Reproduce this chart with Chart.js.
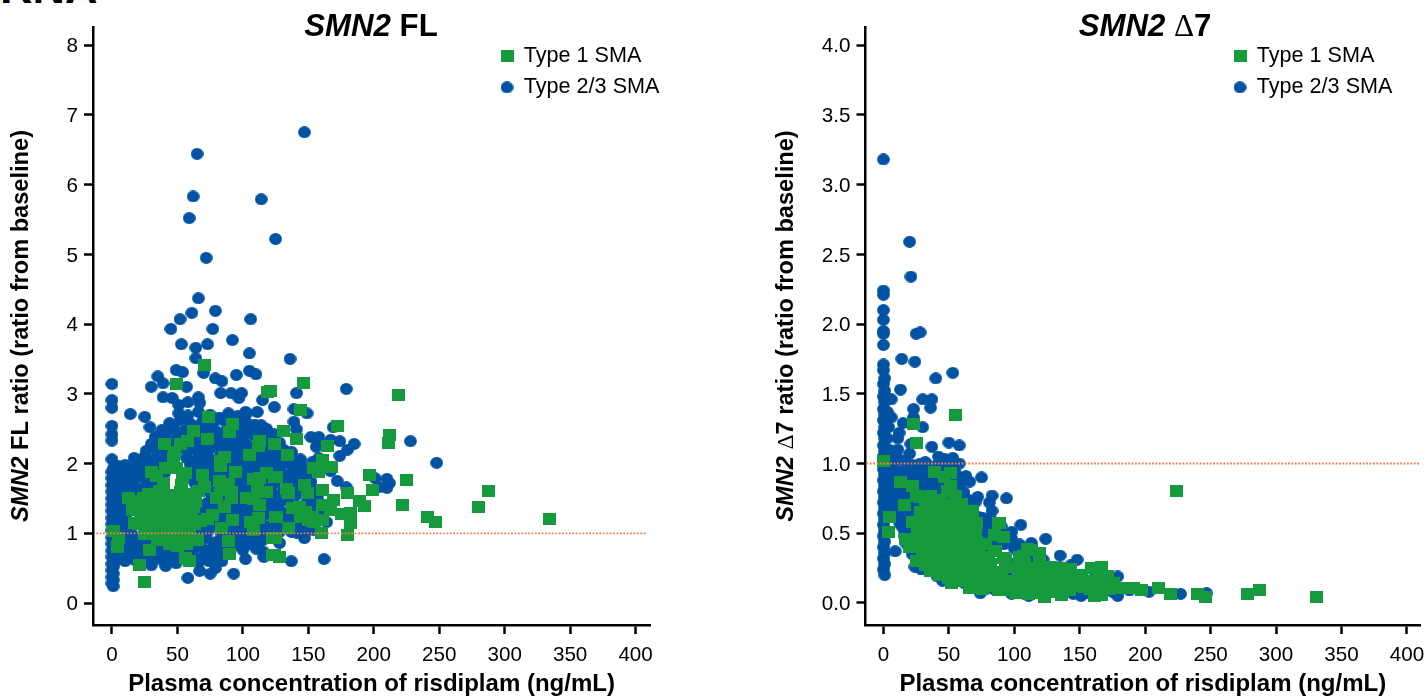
<!DOCTYPE html>
<html>
<head>
<meta charset="utf-8">
<title>SMN2 FL and SMN2 delta7 vs plasma risdiplam</title>
<script src="https://cdn.jsdelivr.net/npm/chart.js@4"></script>
<style>
    html, body { margin: 0; padding: 0; background: #fff; width: 1427px; height: 699px; overflow: hidden; }
    canvas { position: absolute; top: 0; }
    #chartFL { left: 0; }
    #chartD7 { left: 700px; }
    #cropLabel { position: absolute; left: 0; top: -35px; font: bold 45px/45px "Liberation Sans", sans-serif; color: #000; }
</style>
</head>
<body>
<div id="cropLabel">RNA</div>
<canvas id="chartFL" width="700" height="699"></canvas>
<canvas id="chartD7" width="727" height="699"></canvas>
<script>
// ====== Data: [concentration ng/mL, ratio] ======
const legendType1 = "Type 1 SMA";
const legendType23 = "Type 2/3 SMA";
const xTicks = [0, 50, 100, 150, 200, 250, 300, 350, 400];
const flTicks = [0, 1, 2, 3, 4, 5, 6, 7, 8];
const d7Ticks = [0, 0.5, 1, 1.5, 2, 2.5, 3, 3.5, 4];
const xAxisTitle = "Plasma concentration of risdiplam (ng/mL)";
const baselineRatio = 1;

const flType1 = [[146,3.15],[219,2.98],[144,2.77],[172,2.54],[131,2.47],[141,2.35],[212,2.41],[211,2.29],[165,2.25],[134,2.12],[161,2.05],[154,1.94],[168,1.95],[158,1.88],[197,1.84],[225,1.76],[126,1.81],[199,1.62],[147,1.69],[133,1.63],[161,1.62],[180,1.58],[149,1.58],[135,1.58],[169,1.48],[189,1.46],[193,1.39],[222,1.4],[161,1.4],[182,1.29],[175,1.28],[167,1.33],[241,1.23],[247,1.16],[182,1.15],[161,1.19],[155,1.16],[150,1.19],[144,1.23],[138,1.36],[143,1.38],[148,1.3],[153,1.23],[126,1.23],[135,1.08],[160,1],[180,.98],[125,.93],[128,.66],[124,.69],[280,1.38],[288,1.61],[334,1.2],[49,3.14],[71,3.41],[119,3.03],[121,3.04],
[74,2.67],[92,2.57],[90,2.45],[62,2.47],[73,2.35],[40,2.28],[52,2.28],[58,2.32],[113,2.32],[112,2.25],[124,2.28],[105,2.12],[48,2.16],[47,2.08],[86,2.09],[83,2.04],[83,1.96],[94,1.88],[41,1.94],[30,1.88],[34,1.82],[49,1.94],[56,1.86],[69,1.84],[54,1.79],[39,1.72],[82,1.75],[89,1.71],[108,1.78],[113,1.79],[118,1.86],[124,1.81],[91,1.59],[83,1.62],[71,1.66],[53,1.69],[111,1.65],[118,1.59],[13,1.51],[24,1.51],[37,1.59],[80,1.51],[91,1.51],[103,1.51],[108,1.49],[113,1.4],[16,1.33],[86,1.38],[77,1.26],[73,1.2],[92,1.19],[112,1.22],[106,1.16],[125,1.23],[20,1.13],[58,1.16],[84,1.08],[108,1.05],[1,1.03],[5,.93],[4,.8],[25,.99],[29,.76],[89,.89],[90,.7],[21,.54],[25,.3],[56,.65],[59,.6],[123,.93],[123,.69],
[28,1.57],[36,1.6],[44,1.55],[52,1.59],[60,1.56],[66,1.61],[20,1.46],[27,1.48],[35,1.45],[43,1.49],[50,1.44],[58,1.48],[64,1.45],[18,1.36],[26,1.38],[33,1.35],[41,1.39],[48,1.36],[56,1.33],[62,1.37],[22,1.26],[29,1.24],[37,1.28],[45,1.25],[53,1.27],[61,1.24],[17,1.15],[24,1.17],[32,1.14],[40,1.16],[47,1.13],[55,1.17],[63,1.14],[68,1.18],[27,1.04],[36,1.06],[44,1.03],[51,1.05],[59,1.02],[35,.91],[43,.94],[50,.9],[57,.93],[65,.91],[44,.84],[50,.82],[57,.85]];

const flType23 = [[147,6.75],[65,6.44],[62,5.83],[114,5.79],[59,5.52],[125,5.22],[72,4.95],[66,4.37],[79,4.19],[61,4.16],[52,4.07],[106,4.07],[45,3.93],[77,3.93],[53,3.71],[73,3.71],[92,3.77],[64,3.66],[105,3.58],[136,3.5],[64,3.51],[70,3.3],[49,3.34],[54,3.31],[35,3.25],[79,3.22],[84,3.18],[95,3.27],[105,3.33],[110,3.28],[30,3.1],[39,3.15],[57,3.1],[0,3.14],[0,2.91],[0,2.8],[0,2.54],[0,2.42],[0,2.33],[0,2.06],[14,2.71],[25,2.67],[29,2.52],[39,2.95],[46,2.94],[51,2.84],[66,2.95],[67,2.87],[58,2.88],[83,3.01],[91,3.01],[99,3.01],[97,2.94],[115,2.91],[124,2.81],[141,3.01],[179,3.07],[149,2.72],[139,2.78],[139,2.6],[141,2.49],[100,2.45],[114,2.55],[118,2.5],[112,2.45],[102,2.74],[111,2.74],[152,2.38],[158,2.38],[167,2.34],[174,2.32],[185,2.28],[180,2.2],[174,2.11],[156,2.24],[169,2.52],[228,2.32],[248,2.01],[158,2.08],[153,2.02],[127,1.98],[117,2.01],[167,1.89],[172,1.75],[179,1.66],[201,1.79],[210,1.78],[212,1.72],[210,1.65],[204,1.66],[162,.63],[137,.6],[147,.93],[128,.86],[115,.9],[106,.92],[116,.73],[116,.66],[102,.63],[100,.76],[97,.83],[93,.42],[79,.5],[75,.42],[67,.46],[58,.36],[74,.6],[70,.66],[71,.76],[41,.53],[30,.54],[49,.57],[32,.64],[10,.6],[18,.61],[164,1.16],[157,1.48],
[1,.24],[0,.28],[1,.33],[0,.37],[1,.42],[0,.47],[1,.52],[0,.56],[1,.61],[0,.66],[2,.71],[0,.75],[1,.8],[0,.85],[2,.9],[0,.94],[1,.99],[0,1.04],[2,1.08],[0,1.13],[1,1.18],[0,1.22],[2,1.27],[0,1.32],[1,1.36],[0,1.41],[2,1.46],[0,1.5],[1,1.55],[0,1.6],[2,1.64],[0,1.69],[1,1.74],[0,1.79],[2,1.83],[0,1.88],[1,1.93],[4,.62],[3,.7],[5,.78],[4,.87],[6,.96],[3,1.05],[5,1.14],[4,1.3],[6,1.4],[3,1.58],[5,1.68],[4,1.77],[6,1.86],[5,1.96],
[51,2.72],[58,2.69],[66,2.74],[75,2.7],[82,2.66],[89,2.72],[96,2.68],[103,2.72],[44,2.58],[52,2.62],[60,2.57],[69,2.6],[77,2.56],[85,2.62],[94,2.58],[102,2.6],[109,2.56],[38,2.48],[47,2.5],[55,2.47],[63,2.52],[72,2.5],[80,2.46],[88,2.5],[97,2.47],[105,2.5],[33,2.38],[41,2.4],[50,2.37],[58,2.41],[66,2.38],[75,2.4],[83,2.36],[92,2.4],[100,2.37],[108,2.41],[116,2.38],[124,2.42],[30,2.28],[38,2.3],[46,2.27],[54,2.3],[63,2.28],[71,2.26],[79,2.3],[87,2.27],[95,2.3],[103,2.27],[111,2.3],[120,2.27],[128,2.3],[26,2.18],[34,2.2],[42,2.17],[50,2.2],[58,2.18],[66,2.16],[74,2.2],[83,2.17],[91,2.2],[99,2.17],[107,2.2],[115,2.18],[123,2.16],[131,2.2],[137,2.17],[17,2.08],[25,2.1],[33,2.07],[41,2.09],[57,2.08],[65,2.06],[73,2.1],[81,2.07],[90,2.09],[98,2.07],[106,2.05],[114,2.09],[122,2.07],[130,2.05],[138,2.09],[144,2.06],[10,1.98],[19,2],[27,1.97],[36,1.99],[60,1.98],[68,1.96],[76,1.99],[89,1.97],[97,1.99],[105,1.96],[113,1.93],[121,1.96],[137,1.98],[145,1.96],[8,1.88],[16,1.86],[24,1.89],[40,1.86],[60,1.88],[73,1.9],[81,1.87],[89,1.9],[97,1.86],[105,1.89],[113,1.87],[129,1.88],[137,1.86],[145,1.89],[151,1.85],[10,1.77],[18,1.79],[26,1.76],[62,1.76],[76,1.78],[97,1.77],[105,1.79],[129,1.78],[137,1.76],[145,1.78],[152,1.74],[9,1.67],[17,1.69],[25,1.66],[31,1.68],[64,1.7],[97,1.68],[105,1.66],[123,1.7],[141,1.67],[153,1.65],[11,1.58],[20,1.6],[97,1.6],[107,1.57],[125,1.55],[142,1.56],[157,1.55],[9,1.42],[73,1.44],[98,1.43],[106,1.41],[119,1.45],[127,1.43],[135,1.46],[153,1.47],[8,1.32],[71,1.32],[79,1.34],[97,1.31],[105,1.33],[120,1.36],[128,1.34],[134,1.29],[158,1.32],[10,1.22],[67,1.26],[84,1.24],[100,1.26],[118,1.27],[130,1.22],[140,1.2],[160,1.26],[9,1.12],[14,1.04],[66,1.1],[76,1.12],[84,1.16],[99,1.13],[115,1.12],[120,1.1],[128,1.14],[143,1.1],[10,.98],[18,.94],[66,1.02],[74,1.04],[84,.98],[95,1],[103,1.02],[113,1],[128,1.02],[141,1.01],[11,.88],[19,.86],[28,.9],[72,.93],[80,.88],[98,.9],[107,1],[119,1.01],[9,.77],[17,.78],[25,.82],[35,.8],[43,.76],[52,.78],[60,.78],[67,.82],[78,.84],[84,.78],[92,.82],[12,.68],[20,.7],[36,.72],[44,.68],[52,.7],[62,.7],[78,.72],[84,.7],[38,.62],[44,.6],[66,.58],
[71,2.43],[79,2.42],[87,2.36],[95,2.44],[59,2.23],[67,2.24],[75,2.25],[83,2.24],[92,2.13],[100,2.14],[108,2.13],[116,2.14],[124,2.13],[132,2.13],[70,2.03],[78,2.03],[86,2.02],[94,2.03],[102,2.01],[110,2],[118,2.02],[126,2.04],[134,2.01],[141,2.02],[69,1.83],[85,1.82],[93,1.81],[101,1.84],[109,1.83],[117,1.93],[125,1.88],[133,1.82],[141,1.83],[149,1.79],[70,1.72],[80,1.7],[90,1.65],[101,1.73],[110,1.71],[117,1.72],[133,1.72],[148,1.7],[75,1.58],[85,1.55],[100,1.55],[114,1.55],[120,1.6],[131,1.66],[144,1.62],[150,1.5],[78,1.44],[92,1.42],[103,1.37],[115,1.33],[125,1.5],[141,1.4],[148,1.42],[155,1.4],[82,1.3],[92,1.28],[110,1.28],[124,1.3],[140,1.3],[152,1.3],[155,1.2],[74,1.13],[92,1.05],[103,1.1],[108,1.12],[135,1.15],[137,1.02],[148,1.02],[154,1.05],[70,.94],[88,.96],[96,.94],[105,.84],[112,.85],[118,.95],[76,.78],[110,.78],[76,.65],[84,.6],[8,1.93],[13,1.9],[20,1.94],[28,1.93],[12,1.82],[20,1.84],[30,1.8],[9,1.72],[13,1.62],[23,1.55],[8,1.55],[12,1.45],[8,1.2],[12,1.3],[14,1.15],[9,1.05],[14,.93],[24,.96],[8,.9],[13,.82],[22,.75],[30,.72],[14,.7],[28,.62],[22,.66]];

const d7Type1 = [[55,1.35],[23,1.28],[25,1.15],[0,1.02],[224,.8],[331,.04],[287,.09],[278,.065],[246,.04],[240,.065],[219,.065],[210,.11],[197,.09],[191,.11],[181,.11],[5,.62],[4,.51],[39,.94],[51,.93],[47,.9],[13,.87],[22,.84],[51,.84],[49,.8],[25,.77],[36,.77],[55,.77],[16,.7],[32,.7],[52,.7],[60,.71],[68,.66],[68,.62],[71,.57],[89,.57],[22,.58],[26,.53],[17,.46],[20,.4],[85,.49],[92,.47],[71,.44],[85,.37],[92,.32],[110,.39],[107,.34],[119,.36],[119,.29],[66,.11],[88,.09],[111,.065],[123,.05],[113,.38],[104,.33],[167,.26],[159,.25],[171,.19],[151,.2],[143,.24],[134,.22],[93,.31],[86,.37],[88,.57],[67,.115],[123,.045],[136,.06],[161,.05],[167,.06],[143,.14],[154,.115],
[28,.65],[35,.62],[43,.66],[50,.63],[57,.6],[64,.64],[30,.55],[38,.57],[46,.54],[54,.56],[62,.53],[70,.51],[78,.42],[27,.46],[34,.44],[42,.48],[50,.45],[58,.47],[66,.44],[73,.37],[80,.33],[30,.36],[38,.38],[46,.35],[54,.37],[62,.34],[66,.27],[74,.26],[82,.24],[90,.22],[25,.3],[32,.27],[40,.28],[48,.25],[56,.28],[43,.2],[50,.18],[58,.21],[64,.19],[72,.17],[80,.15],[88,.17],[96,.14],[104,.2],[112,.22],[120,.19],[128,.21],[136,.18],[145,.19],[100,.26],[108,.28],[116,.25],[126,.12],[118,.13],[110,.1],[102,.11],[94,.09],[86,.12],[76,.1],[134,.11],[142,.09],[150,.12],[158,.1],[165,.13],[172,.1],[176,.14],[130,.08],[101,.07],[116,.07],
[30,.6],[39,.61],[47,.59],[55,.62],[62,.58],[33,.5],[41,.52],[49,.5],[57,.51],[65,.49],[26,.41],[38,.43],[46,.41],[54,.42],[62,.4],[70,.38],[33,.33],[42,.32],[50,.31],[58,.32],[66,.32],[74,.32],[82,.28],[36,.23],[45,.24],[53,.23],[61,.25],[70,.22],[78,.22],[86,.21],[94,.26],[52,.14],[60,.16],[68,.14],[76,.14],[84,.16],[92,.11],[100,.16],[108,.15],[116,.16],[124,.15],[132,.14],[140,.17],[148,.15],[156,.16],[164,.18],[128,.26],[136,.25],[122,.24],[44,.74],[38,.7],[28,.76],[58,.68]];

const d7Type23 = [[0,3.18],[20,2.59],[21,2.34],[0,2.24],[0,2.21],[0,2.1],[0,2.03],[0,1.95],[0,1.93],[25,1.93],[28,1.94],[0,1.85],[14,1.75],[24,1.73],[0,1.71],[0,1.67],[40,1.61],[53,1.65],[13,1.53],[6,1.46],[30,1.46],[37,1.46],[36,1.4],[23,1.39],[23,1.33],[15,1.29],[6,1.33],[30,1.26],[12,1.22],[11,1.18],[37,1.12],[50,1.15],[58,1.13],[42,1.05],[47,1.03],[53,1.04],[58,1],[32,1.01],[21,1.14],[11,1.1],[20,1.07],[10,1.05],[63,.91],[75,.9],[66,.87],[61,.78],[72,.76],[83,.77],[94,.75],[81,.72],[83,.66],[105,.56],[98,.51],[113,.43],[124,.46],[135,.34],[148,.31],[130,.26],[143,.27],[179,.19],[9,.37],[203,.08],[227,.065],[247,.07],[179,.05],[151,.05],[74,.07],[98,.065],[75,.14],[45,.16],[41,.19],[29,.24],[24,.26],[37,.25],[111,.05],[145,.065],
[1,.2],[0,.24],[1,.28],[0,.32],[1,.36],[0,.4],[1,.44],[0,.48],[1,.52],[0,.56],[1,.6],[0,.64],[1,.68],[0,.72],[1,.76],[0,.8],[1,.84],[0,.88],[1,.92],[0,.96],[1,1],[0,1.05],[1,1.09],[0,1.13],[1,1.18],[0,1.22],[1,1.26],[0,1.31],[1,1.35],[0,1.39],[1,1.44],[0,1.48],[1,1.52],[0,1.57],[1,1.61],[4,.66],[3,.72],[4,.79],[3,.86],[4,.94],[3,1.02],[4,1.1],[3,1.18],[4,1.26],[3,1.37],
[8,1],[15,1.02],[22,.99],[28,1],[35,.98],[42,1],[50,.99],[6,.95],[13,.94],[20,.96],[27,.93],[34,.95],[41,.94],[48,.96],[55,.93],[5,.9],[12,.88],[19,.9],[26,.89],[33,.91],[40,.88],[47,.9],[54,.88],[60,.89],[6,.84],[13,.85],[20,.83],[27,.85],[34,.83],[41,.85],[48,.84],[56,.83],[5,.79],[12,.8],[19,.78],[26,.79],[33,.8],[40,.77],[47,.79],[54,.77],[61,.8],[6,.74],[13,.72],[20,.74],[27,.72],[42,.73],[50,.75],[58,.73],[65,.74],[6,.68],[12,.66],[20,.67],[38,.68],[60,.67],[68,.68],[7,.62],[14,.6],[20,.61],[60,.6],[76,.61],[82,.6],[14,.55],[21,.53],[76,.56],[82,.54],[90,.55],[16,.48],[22,.46],[76,.49],[84,.52],[96,.49],[18,.42],[85,.43],[97,.44],[104,.42],[22,.35],[28,.32],[78,.35],[100,.39],[108,.35],[115,.31],[28,.28],[35,.3],[72,.3],[98,.28],[108,.26],[122,.31],[127,.25],[118,.25],[52,.22],[60,.24],[78,.2],[94,.2],[132,.2],[139,.18],[62,.14],[84,.1],[92,.15],[100,.13],[125,.16],[140,.13],[150,.15],[160,.17],[170,.15],[125,.08],[137,.08],[155,.07],[165,.07],[175,.08],[188,.09],
[3,.9],[9,.92],[16,.9],[23,.93],[30,.95],[37,.93],[44,.97],[52,.96],[9,.82],[16,.81],[23,.82],[30,.83],[37,.84],[44,.81],[52,.85],[58,.86],[9,.76],[16,.75],[23,.76],[30,.74],[38,.75],[46,.76],[54,.74],[9,.7],[16,.69],[24,.68],[31,.67],[36,.72],[64,.69],[70,.72],[64,.62],[72,.62],[80,.56],[70,.55],[76,.52],[88,.5],[92,.42],[98,.46],[104,.37],[110,.3],[104,.28],[115,.27],[11,.64],[24,.62],[16,.52],[12,.58],[19,.56]];

// ====== Marcadores: the source points are slightly oval ======
function makeMarker(shape, w, h, color) {
    const c = document.createElement("canvas");
    c.width = w;
    c.height = h;
    const ctx = c.getContext("2d");
    ctx.fillStyle = color;
    if (shape === "oval") {
        ctx.beginPath();
        ctx.ellipse(w / 2, h / 2, w / 2 - 0.1, h / 2 - 0.1, 0, 0, Math.PI * 2);
        ctx.fill();
    } else {
        ctx.fillRect(0, 0, w, h);
    }
    return c;
}
const squareMarker = makeMarker("square", 13, 12, "#169A3E");
const ovalMarker = makeMarker("oval", 13, 12, "#0052A3");

// ====== Mixed style labels (italic gene name + bold) ======
const BOLD = 'bold SIZEpx "Liberation Sans"';
const ITALIC = 'italic bold SIZEpx "Liberation Sans"';
const SERIF = 'SIZEpx "Liberation Serif"';

function drawRuns(ctx, runs, size, cx, cy, angle) {
    ctx.save();
    ctx.translate(cx, cy);
    ctx.rotate(angle);
    ctx.fillStyle = "#000";
    ctx.textBaseline = "middle";
    ctx.textAlign = "left";
    let total = 0;
    runs.forEach(r => {
        ctx.font = r[1].replace("SIZE", size);
        total += ctx.measureText(r[0]).width;
    });
    let x = -total / 2;
    runs.forEach(r => {
        ctx.font = r[1].replace("SIZE", size);
        ctx.fillText(r[0], x, 0);
        x += ctx.measureText(r[0]).width;
    });
    ctx.restore();
}

const mixedLabels = {
    id: "mixedLabels",
    afterLayout(chart, args, opts) {
        // move legend to where the figure has it, and widen its clip box
        const legend = chart.legend;
        legend.left = opts.legendX;
        legend.top = opts.legendY;
        legend.right = chart.width;
        legend.bottom = chart.height;
    },
    afterDraw(chart, args, opts) {
        drawRuns(chart.ctx, opts.title, 31.2, opts.titleX, 27.5, 0);
        drawRuns(chart.ctx, opts.yTitle, 23.6, opts.yTitleX, 326, -Math.PI / 2);
    }
};

// ====== One panel ======
function buildPanel(id, cfg) {
    const tickGrid = { display: true, drawOnChartArea: false, drawTicks: true, tickLength: 9, tickWidth: 2.5, tickColor: "#000" };
    const tickFont = { family: "Liberation Sans", size: 20.6 };
    return new Chart(document.getElementById(id), {
        type: "scatter",
        data: {
            datasets: [
                { label: legendType1, data: cfg.type1.map(p => ({ x: p[0], y: p[1] })), pointStyle: squareMarker, pointRadius: 6, backgroundColor: "#169A3E", clip: false },
                { label: legendType23, data: cfg.type23.map(p => ({ x: p[0], y: p[1] })), pointStyle: ovalMarker, pointRadius: 6, backgroundColor: "#0052A3", clip: false },
                { label: "baseline", data: [{ x: cfg.lineFrom, y: baselineRatio }, { x: cfg.lineTo, y: baselineRatio }], showLine: true, pointRadius: 0, borderColor: "#F47C50", borderWidth: 1.8, borderDash: [1.8, 1.6], order: -1 }
            ]
        },
        options: {
            responsive: false,
            animation: false,
            layout: { padding: { top: 27, right: cfg.padRight, left: 0, bottom: 0 } },
            scales: {
                x: {
                    type: "linear",
                    min: cfg.xMin,
                    max: cfg.xMax,
                    afterBuildTicks: s => { s.ticks = xTicks.map(v => ({ value: v })); },
                    afterFit: s => { s.height = 74; s.paddingRight = 0; s.paddingLeft = 0; },
                    border: { display: true, color: "#000", width: 2.5 },
                    grid: tickGrid,
                    ticks: { color: "#000", font: tickFont, padding: 8.5, maxRotation: 0, autoSkip: false },
                    title: { display: true, text: xAxisTitle, color: "#000", font: { family: "Liberation Sans", size: 24, weight: "bold" }, padding: { top: 5.5, bottom: 0 } }
                },
                y: {
                    type: "linear",
                    min: cfg.yMin,
                    max: cfg.yMax,
                    afterBuildTicks: s => { s.ticks = cfg.yTicks.map(v => ({ value: v })); },
                    afterFit: s => { s.width = cfg.yWidth; },
                    border: { display: true, color: "#000", width: 2.5 },
                    grid: tickGrid,
                    ticks: { color: "#000", font: tickFont, padding: 6, labelOffset: 1.5, autoSkip: false, callback: cfg.yFormat }
                }
            },
            plugins: {
                tooltip: { enabled: false },
                legend: {
                    position: "chartArea",
                    align: "start",
                    labels: {
                        usePointStyle: true,
                        boxWidth: 12,
                        padding: 10,
                        color: "#000",
                        font: { family: "Liberation Sans", size: 21.6 },
                        filter: item => item.datasetIndex < 2
                    }
                },
                mixedLabels: { title: cfg.title, yTitle: cfg.yTitle, titleX: cfg.titleX, yTitleX: cfg.yTitleX, legendX: cfg.legendX, legendY: cfg.legendY }
            }
        },
        plugins: [mixedLabels]
    });
}

buildPanel("chartFL", {
    type1: flType1, type23: flType23,
    xMin: -14.5, xMax: 411, yMin: -0.315, yMax: 8.26,
    yTicks: flTicks, yFormat: v => String(v), yWidth: 93, padRight: 50,
    lineFrom: -12, lineTo: 408,
    title: [["SMN2", ITALIC], [" FL", BOLD]],
    yTitle: [["SMN2", ITALIC], [" FL ratio (ratio from baseline)", BOLD]],
    titleX: 371, yTitleX: 21.5, legendX: 491, legendY: 35
});

buildPanel("chartD7", {
    type1: d7Type1, type23: d7Type23,
    xMin: -13.7, xMax: 410, yMin: -0.158, yMax: 4.13,
    yTicks: d7Ticks, yFormat: v => v.toFixed(1), yWidth: 165.5, padRight: 7,
    lineFrom: -13, lineTo: 410,
    title: [["SMN2", ITALIC], [" ", BOLD], ["\u0394", SERIF], ["7", BOLD]],
    yTitle: [["SMN2", ITALIC], [" ", BOLD], ["\u0394", SERIF], ["7 ratio (ratio from baseline)", BOLD]],
    titleX: 445, yTitleX: 86.5, legendX: 524, legendY: 35
});
</script>
</body>
</html>
